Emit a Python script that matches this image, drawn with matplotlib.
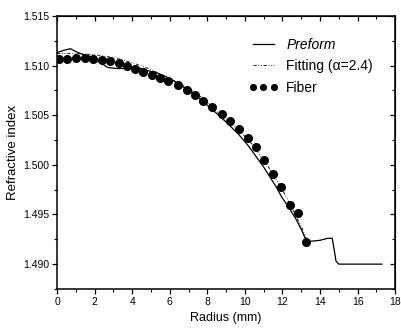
import numpy as np
import matplotlib
matplotlib.use('Agg')
import matplotlib.pyplot as plt
from matplotlib.ticker import MultipleLocator

plt.rcParams['font.family'] = ['Liberation Sans', 'DejaVu Sans']

# preform profile (measured)
preform_r = [0.0, 0.3, 0.7, 1.0, 1.4, 1.8, 2.2, 2.7, 3.2, 3.6, 3.9, 4.3, 4.8, 5.4,
             6.0, 6.5, 7.0, 7.5, 8.0, 8.54, 9.0, 9.65, 10.19, 10.99, 11.66,
             11.96, 12.23, 12.7, 13.0, 13.26, 13.5, 14.0, 14.4, 14.65, 14.75,
             14.85, 15.0, 16.0, 17.3]
preform_n = [1.5113, 1.5115, 1.5117, 1.5114, 1.5111, 1.5109, 1.5104, 1.5098,
             1.5097, 1.5097, 1.5099, 1.5098, 1.5095, 1.5092, 1.5087, 1.5081,
             1.5075, 1.5068, 1.5060, 1.5051, 1.5043, 1.5031, 1.5019, 1.4998,
             1.4978, 1.49675, 1.4960, 1.4946, 1.4935, 1.4924, 1.4923, 1.4924,
             1.4926, 1.4926, 1.4915, 1.4903, 1.4900, 1.4900, 1.4900]

# fitting curve (alpha = 2.4)
fit_r = [0.0, 1.0, 2.0, 3.0, 4.0, 5.0, 6.0, 7.0, 7.7, 8.64, 9.2, 9.89, 10.42,
         11.25, 11.84, 12.19, 12.6, 13.0, 13.3]
fit_n = [1.5112, 1.5112, 1.5111, 1.5108, 1.5103, 1.5096, 1.5087, 1.5077,
         1.5068, 1.5051, 1.5042, 1.5031, 1.5020, 1.4998, 1.4980, 1.4968,
         1.4953, 1.4938, 1.4925]

# fiber profile
fiber_r = [0.10, 0.55, 1.01, 1.46, 1.92, 2.37, 2.82, 3.28, 3.71, 4.15, 4.60,
           5.04, 5.48, 5.93, 6.46, 6.91, 7.35, 7.79, 8.27, 8.77, 9.21, 9.69,
           10.15, 10.60, 11.04, 11.52, 11.91, 12.41, 12.85, 13.26]
fiber_n = [1.5107, 1.5107, 1.5108, 1.5108, 1.5107, 1.5106, 1.5105, 1.5103,
           1.5100, 1.5097, 1.5093, 1.5090, 1.5087, 1.5084, 1.5080, 1.5075,
           1.5070, 1.5064, 1.5058, 1.5051, 1.5044, 1.5036, 1.5027, 1.5018,
           1.5005, 1.4991, 1.4978, 1.4960, 1.4951, 1.4922]

fig = plt.figure(figsize=(4.02, 3.31), dpi=100)
ax = fig.add_axes([0.142, 0.127, 0.841, 0.825])

ax.plot(preform_r, preform_n, '-', color='black', lw=0.9, label='Preform')
ax.plot(fit_r, fit_n, color='black', lw=0.6, dashes=(4, 2, 1, 2, 1, 2),
        label='Fitting (\u03b1=2.4)')
ax.plot(fiber_r, fiber_n, 'o', color='black', ms=5.5, ls='none', label='Fiber')

ax.set_xlim(0, 18)
ax.set_ylim(1.4875, 1.515)
ax.xaxis.set_major_locator(MultipleLocator(2))
ax.xaxis.set_minor_locator(MultipleLocator(1))
ax.yaxis.set_major_locator(MultipleLocator(0.005))
ax.yaxis.set_minor_locator(MultipleLocator(0.0025))
ax.yaxis.set_major_formatter(plt.FormatStrFormatter('%.3f'))
ax.tick_params(which='major', direction='out', length=3.5, width=0.9, labelsize=7.5, pad=2)
ax.tick_params(which='minor', direction='out', length=2, width=0.8)
for s in ax.spines.values():
    s.set_linewidth(1.1)

top = ax.secondary_xaxis('top')
top.xaxis.set_major_locator(MultipleLocator(2))
top.xaxis.set_minor_locator(MultipleLocator(1))
top.tick_params(which='major', direction='in', length=3.5, width=0.9, labeltop=False)
top.tick_params(which='minor', direction='in', length=2, width=0.8)
right = ax.secondary_yaxis('right')
right.yaxis.set_major_locator(MultipleLocator(0.005))
right.yaxis.set_minor_locator(MultipleLocator(0.0025))
right.tick_params(which='major', direction='in', length=3.5, width=0.9, labelright=False)
right.tick_params(which='minor', direction='in', length=2, width=0.8)

ax.set_xlabel('Radius (mm)', fontsize=9, labelpad=4)
ax.set_ylabel('Refractive index', fontsize=9.5, labelpad=3)

leg = ax.legend(loc='upper left', frameon=False, fontsize=10, numpoints=3,
                handlelength=2.1, handletextpad=0.6, labelspacing=0.55,
                markerscale=0.75, bbox_to_anchor=(0.53, 0.966))
leg.get_texts()[0].set_style('italic')

fig.savefig('out.png', dpi=100)
